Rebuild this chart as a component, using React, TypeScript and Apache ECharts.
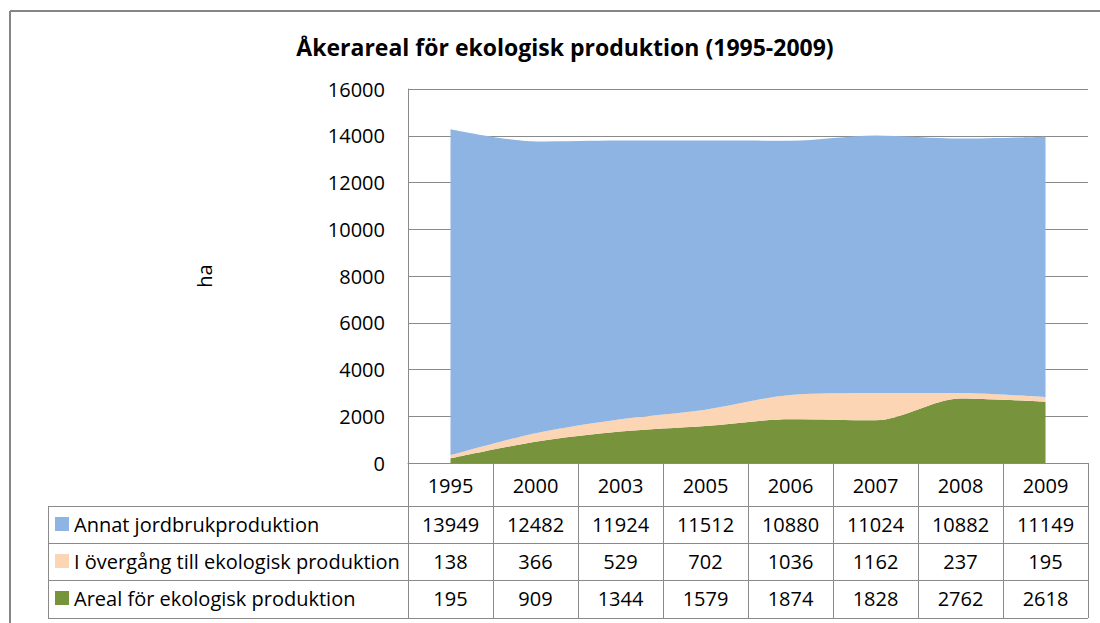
import React, { useEffect, useRef } from "react";
import * as echarts from "echarts";

const years = ["1995", "2000", "2003", "2005", "2006", "2007", "2008", "2009"];
const annat = [13949, 12482, 11924, 11512, 10880, 11024, 10882, 11149];
const overgang = [138, 366, 529, 702, 1036, 1162, 237, 195];
const areal = [195, 909, 1344, 1579, 1874, 1828, 2762, 2618];
const seriesNames = [
  "Annat jordbrukproduktion",
  "I övergång till ekologisk produktion",
  "Areal för ekologisk produktion",
];
const colors = ["#8EB4E3", "#FCD5B5", "#77933C"];
const titleText = "Åkerareal för ekologisk produktion (1995-2009)";
const yName = "ha";

const FONT = "'Open Sans', 'Liberation Sans', sans-serif";
const FS = 20;
const GRID_LEFT = 408;
const GRID_RIGHT = 1088;
const GRID_TOP = 89;
const GRID_BOTTOM = 463;
const TABLE_LEFT = 48;
const ROW_LINES = [506, 543, 580, 618];
const ROW_CENTERS = [524, 561, 598];
const HEADER_CENTER = 485;
const LINE_COLOR = "#8a8a8a";

export default function App() {
  const ref = useRef<HTMLDivElement>(null);
  useEffect(() => {
    if (!ref.current) return;
    const chart = echarts.init(ref.current, undefined, { renderer: "svg" });
    const rowValues = [annat, overgang, areal];
    const labelStyle = {
      interval: 0,
      fontSize: FS,
      lineHeight: FS,
      color: "#000",
      fontFamily: FONT,
      margin: HEADER_CENTER - GRID_BOTTOM - FS / 2,
    };
    const xAxes: any[] = [
      {
        type: "category",
        data: years,
        position: "bottom",
        boundaryGap: true,
        axisLine: { show: true, lineStyle: { color: LINE_COLOR, width: 1 } },
        axisTick: {
          show: true,
          interval: 0,
          length: ROW_LINES[3] - GRID_BOTTOM,
          lineStyle: { color: LINE_COLOR, width: 1 },
        },
        axisLabel: labelStyle,
        splitLine: { show: false },
      },
    ];
    rowValues.forEach((vals, i) => {
      xAxes.push({
        type: "category",
        data: vals.map((v) => String(v)),
        position: "bottom",
        offset: ROW_CENTERS[i] - HEADER_CENTER,
        boundaryGap: true,
        axisLine: { show: false },
        axisTick: { show: false },
        axisLabel: labelStyle,
        splitLine: { show: false },
      });
    });

    const graphics: any[] = [
      {
        type: "line",
        shape: { x1: 10, y1: 11, x2: 1100, y2: 11 },
        style: { stroke: "#868686", lineWidth: 2 },
      },
      {
        type: "line",
        shape: { x1: 10, y1: 11, x2: 10, y2: 623 },
        style: { stroke: "#868686", lineWidth: 2 },
      },
      {
        type: "line",
        shape: { x1: TABLE_LEFT + 0.5, y1: ROW_LINES[0], x2: TABLE_LEFT + 0.5, y2: ROW_LINES[3] },
        style: { stroke: LINE_COLOR, lineWidth: 1 },
      },
    ];
    ROW_LINES.forEach((y) => {
      graphics.push({
        type: "line",
        shape: { x1: TABLE_LEFT, y1: y + 0.5, x2: GRID_RIGHT, y2: y + 0.5 },
        style: { stroke: LINE_COLOR, lineWidth: 1 },
      });
    });
    seriesNames.forEach((name, i) => {
      graphics.push({
        type: "rect",
        shape: { x: 55, y: ROW_CENTERS[i] - 7, width: 14, height: 14 },
        style: { fill: colors[i] },
      });
      graphics.push({
        type: "text",
        x: 74,
        y: ROW_CENTERS[i],
        style: {
          text: name,
          fontSize: FS,
          fontFamily: FONT,
          fill: "#000",
          verticalAlign: "middle",
          align: "left",
        },
      });
    });

    chart.setOption({
      animation: false,
      backgroundColor: "#fff",
      title: {
        text: titleText,
        left: 560,
        textAlign: "center",
        top: 30,
        textStyle: { fontSize: 23, fontWeight: "bold", fontFamily: FONT, color: "#000" },
      },
      grid: {
        left: GRID_LEFT,
        right: 1100 - GRID_RIGHT,
        top: GRID_TOP,
        bottom: 623 - GRID_BOTTOM,
        containLabel: false,
      },
      xAxis: xAxes,
      yAxis: {
        type: "value",
        min: 0,
        max: 16000,
        interval: 2000,
        name: yName,
        nameLocation: "middle",
        nameGap: 194,
        nameRotate: 90,
        nameTextStyle: { fontSize: FS, fontFamily: FONT, color: "#000" },
        axisLine: { show: true, lineStyle: { color: LINE_COLOR, width: 1 } },
        axisTick: { show: false },
        axisLabel: {
          fontSize: FS,
          fontFamily: FONT,
          color: "#000",
          margin: 23,
          formatter: (v: number) => String(v),
        },
        splitLine: { show: true, lineStyle: { color: LINE_COLOR, width: 1 } },
      },
      graphic: graphics,
      series: [
        {
          name: seriesNames[2],
          type: "line",
          stack: "total",
          data: areal,
          smooth: 0.3,
          symbol: "none",
          lineStyle: { width: 0 },
          areaStyle: { color: colors[2], opacity: 1 },
          itemStyle: { color: colors[2] },
          xAxisIndex: 0,
        },
        {
          name: seriesNames[1],
          type: "line",
          stack: "total",
          data: overgang,
          smooth: 0.3,
          symbol: "none",
          lineStyle: { width: 0 },
          areaStyle: { color: colors[1], opacity: 1 },
          itemStyle: { color: colors[1] },
          xAxisIndex: 0,
        },
        {
          name: seriesNames[0],
          type: "line",
          stack: "total",
          data: annat,
          smooth: 0.3,
          symbol: "none",
          lineStyle: { width: 0 },
          areaStyle: { color: colors[0], opacity: 1 },
          itemStyle: { color: colors[0] },
          xAxisIndex: 0,
        },
      ],
    });
    return () => chart.dispose();
  }, []);
  return (
    <div
      ref={ref}
      style={{ position: "fixed", left: 0, top: 0, width: 1100, height: 623 }}
    />
  );
}
